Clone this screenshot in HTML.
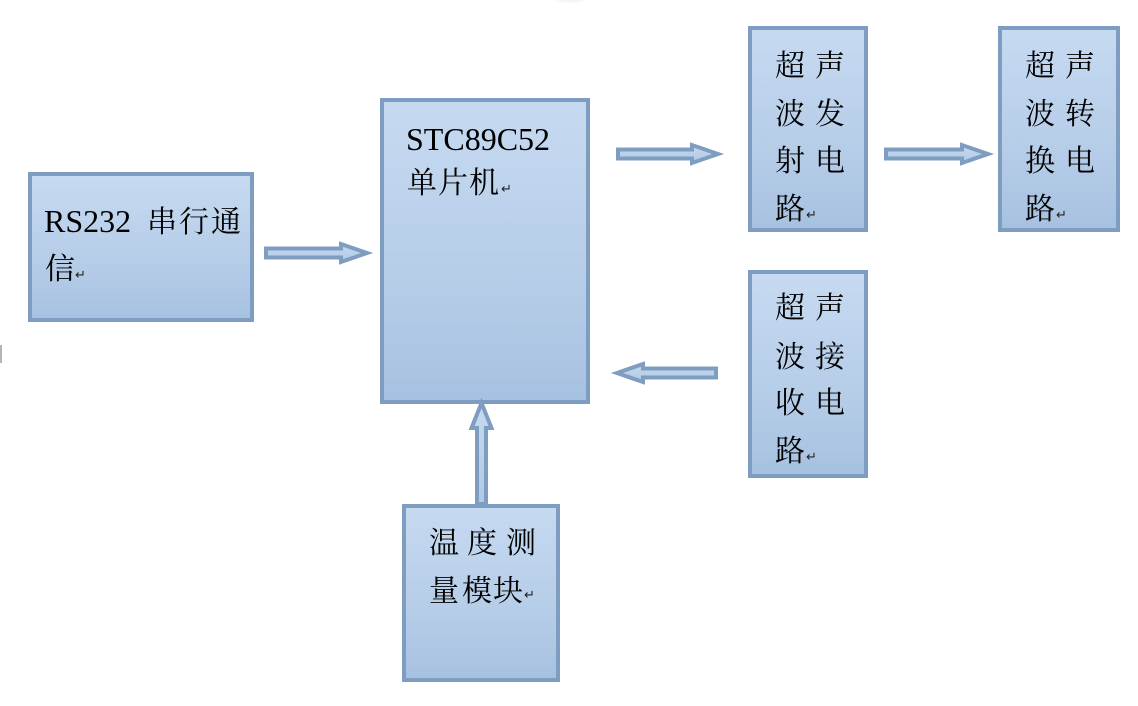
<!DOCTYPE html>
<html lang="zh">
<head>
<meta charset="utf-8">
<title>系统框图</title>
<style>
html,body{margin:0;padding:0;background:#fff}
svg{display:block}
.t{font-family:"Noto Serif CJK SC","Liberation Serif",serif;font-size:30px;fill:#000;font-weight:400}
.l{font-family:"Liberation Serif",serif;font-size:32px;fill:#000}
.r{font-family:"DejaVu Sans",sans-serif;font-size:13px;fill:#222}
.b{stroke:#7f9dc0;stroke-width:4;fill:url(#g)}
.a{stroke:#7f9dc0;stroke-width:4;stroke-linejoin:miter}
</style>
</head>
<body>
<svg width="1138" height="706" viewBox="0 0 1138 706" xmlns="http://www.w3.org/2000/svg">
<defs>
<linearGradient id="g" x1="0" y1="0" x2="0" y2="1">
<stop offset="0" stop-color="#c6daf1"/>
<stop offset=".6" stop-color="#b6cde8"/>
<stop offset="1" stop-color="#a6c1e0"/>
</linearGradient>
<linearGradient id="ga" x1="0" y1="0" x2="0" y2="1">
<stop offset="0" stop-color="#c6daf1"/>
<stop offset="1" stop-color="#b0c9e6"/>
</linearGradient>
<radialGradient id="s"><stop offset="0" stop-color="#e4e4e4"/><stop offset="1" stop-color="#fff"/></radialGradient>
</defs>
<rect width="1138" height="706" fill="#fff"/>
<ellipse cx="570" cy="-4" rx="22" ry="8" fill="url(#s)"/>
<rect x="0" y="345" width="2" height="18" fill="#b5b5b5"/>

<rect class="b" x="30" y="174" width="222" height="146"/>
<rect class="b" x="382" y="100" width="206" height="302"/>
<rect class="b" x="750" y="28" width="116" height="202"/>
<rect class="b" x="1000" y="28" width="118" height="202"/>
<rect class="b" x="750" y="272" width="116" height="204"/>
<rect class="b" x="404" y="506" width="154" height="174"/>

<path class="a" fill="url(#ga)" d="M266 248.500H341V244L367 253L341 262V257.500H266Z"/>
<path class="a" fill="url(#ga)" d="M618 149.500H692V145L718 154L692 163V158.500H618Z"/>
<path class="a" fill="url(#ga)" d="M886 149.500H962V145L988 154L962 163V158.500H886Z"/>
<path class="a" fill="url(#ga)" d="M716 368.500H643V364L617 373L643 382V377.500H716Z"/>
<path class="a" fill="url(#ga)" d="M477 504V428H471.500L481.500 403L491.500 428H486V504Z"/>

<text class="l" x="44" y="232">RS232</text>
<text class="t" x="147" y="232">串</text><text class="t" x="179" y="232">行</text><text class="t" x="211" y="232">通</text>
<text class="t" x="45" y="279">信</text><text class="r" x="75" y="279">↵</text>

<text class="l" x="406" y="150">STC89C52</text>
<text class="t" x="407" y="193">单</text><text class="t" x="438" y="193">片</text><text class="t" x="469" y="193">机</text><text class="r" x="501" y="193">↵</text>

<text class="t" x="775" y="76">超</text><text class="t" x="815" y="76">声</text>
<text class="t" x="775" y="124">波</text><text class="t" x="815" y="124">发</text>
<text class="t" x="775" y="171">射</text><text class="t" x="815" y="171">电</text>
<text class="t" x="775" y="219">路</text><text class="r" x="806" y="219">↵</text>

<text class="t" x="1025" y="76">超</text><text class="t" x="1065" y="76">声</text>
<text class="t" x="1025" y="124">波</text><text class="t" x="1065" y="124">转</text>
<text class="t" x="1025" y="171">换</text><text class="t" x="1065" y="171">电</text>
<text class="t" x="1025" y="219">路</text><text class="r" x="1056" y="219">↵</text>

<text class="t" x="775" y="318">超</text><text class="t" x="815" y="318">声</text>
<text class="t" x="775" y="367">波</text><text class="t" x="815" y="367">接</text>
<text class="t" x="775" y="413">收</text><text class="t" x="815" y="413">电</text>
<text class="t" x="775" y="461">路</text><text class="r" x="806" y="461">↵</text>

<text class="t" x="429" y="553">温</text><text class="t" x="467" y="553">度</text><text class="t" x="506" y="553">测</text>
<text class="t" x="429" y="601">量</text><text class="t" x="462" y="601">模</text><text class="t" x="493" y="601">块</text><text class="r" x="524" y="599">↵</text>
</svg>
</body>
</html>
